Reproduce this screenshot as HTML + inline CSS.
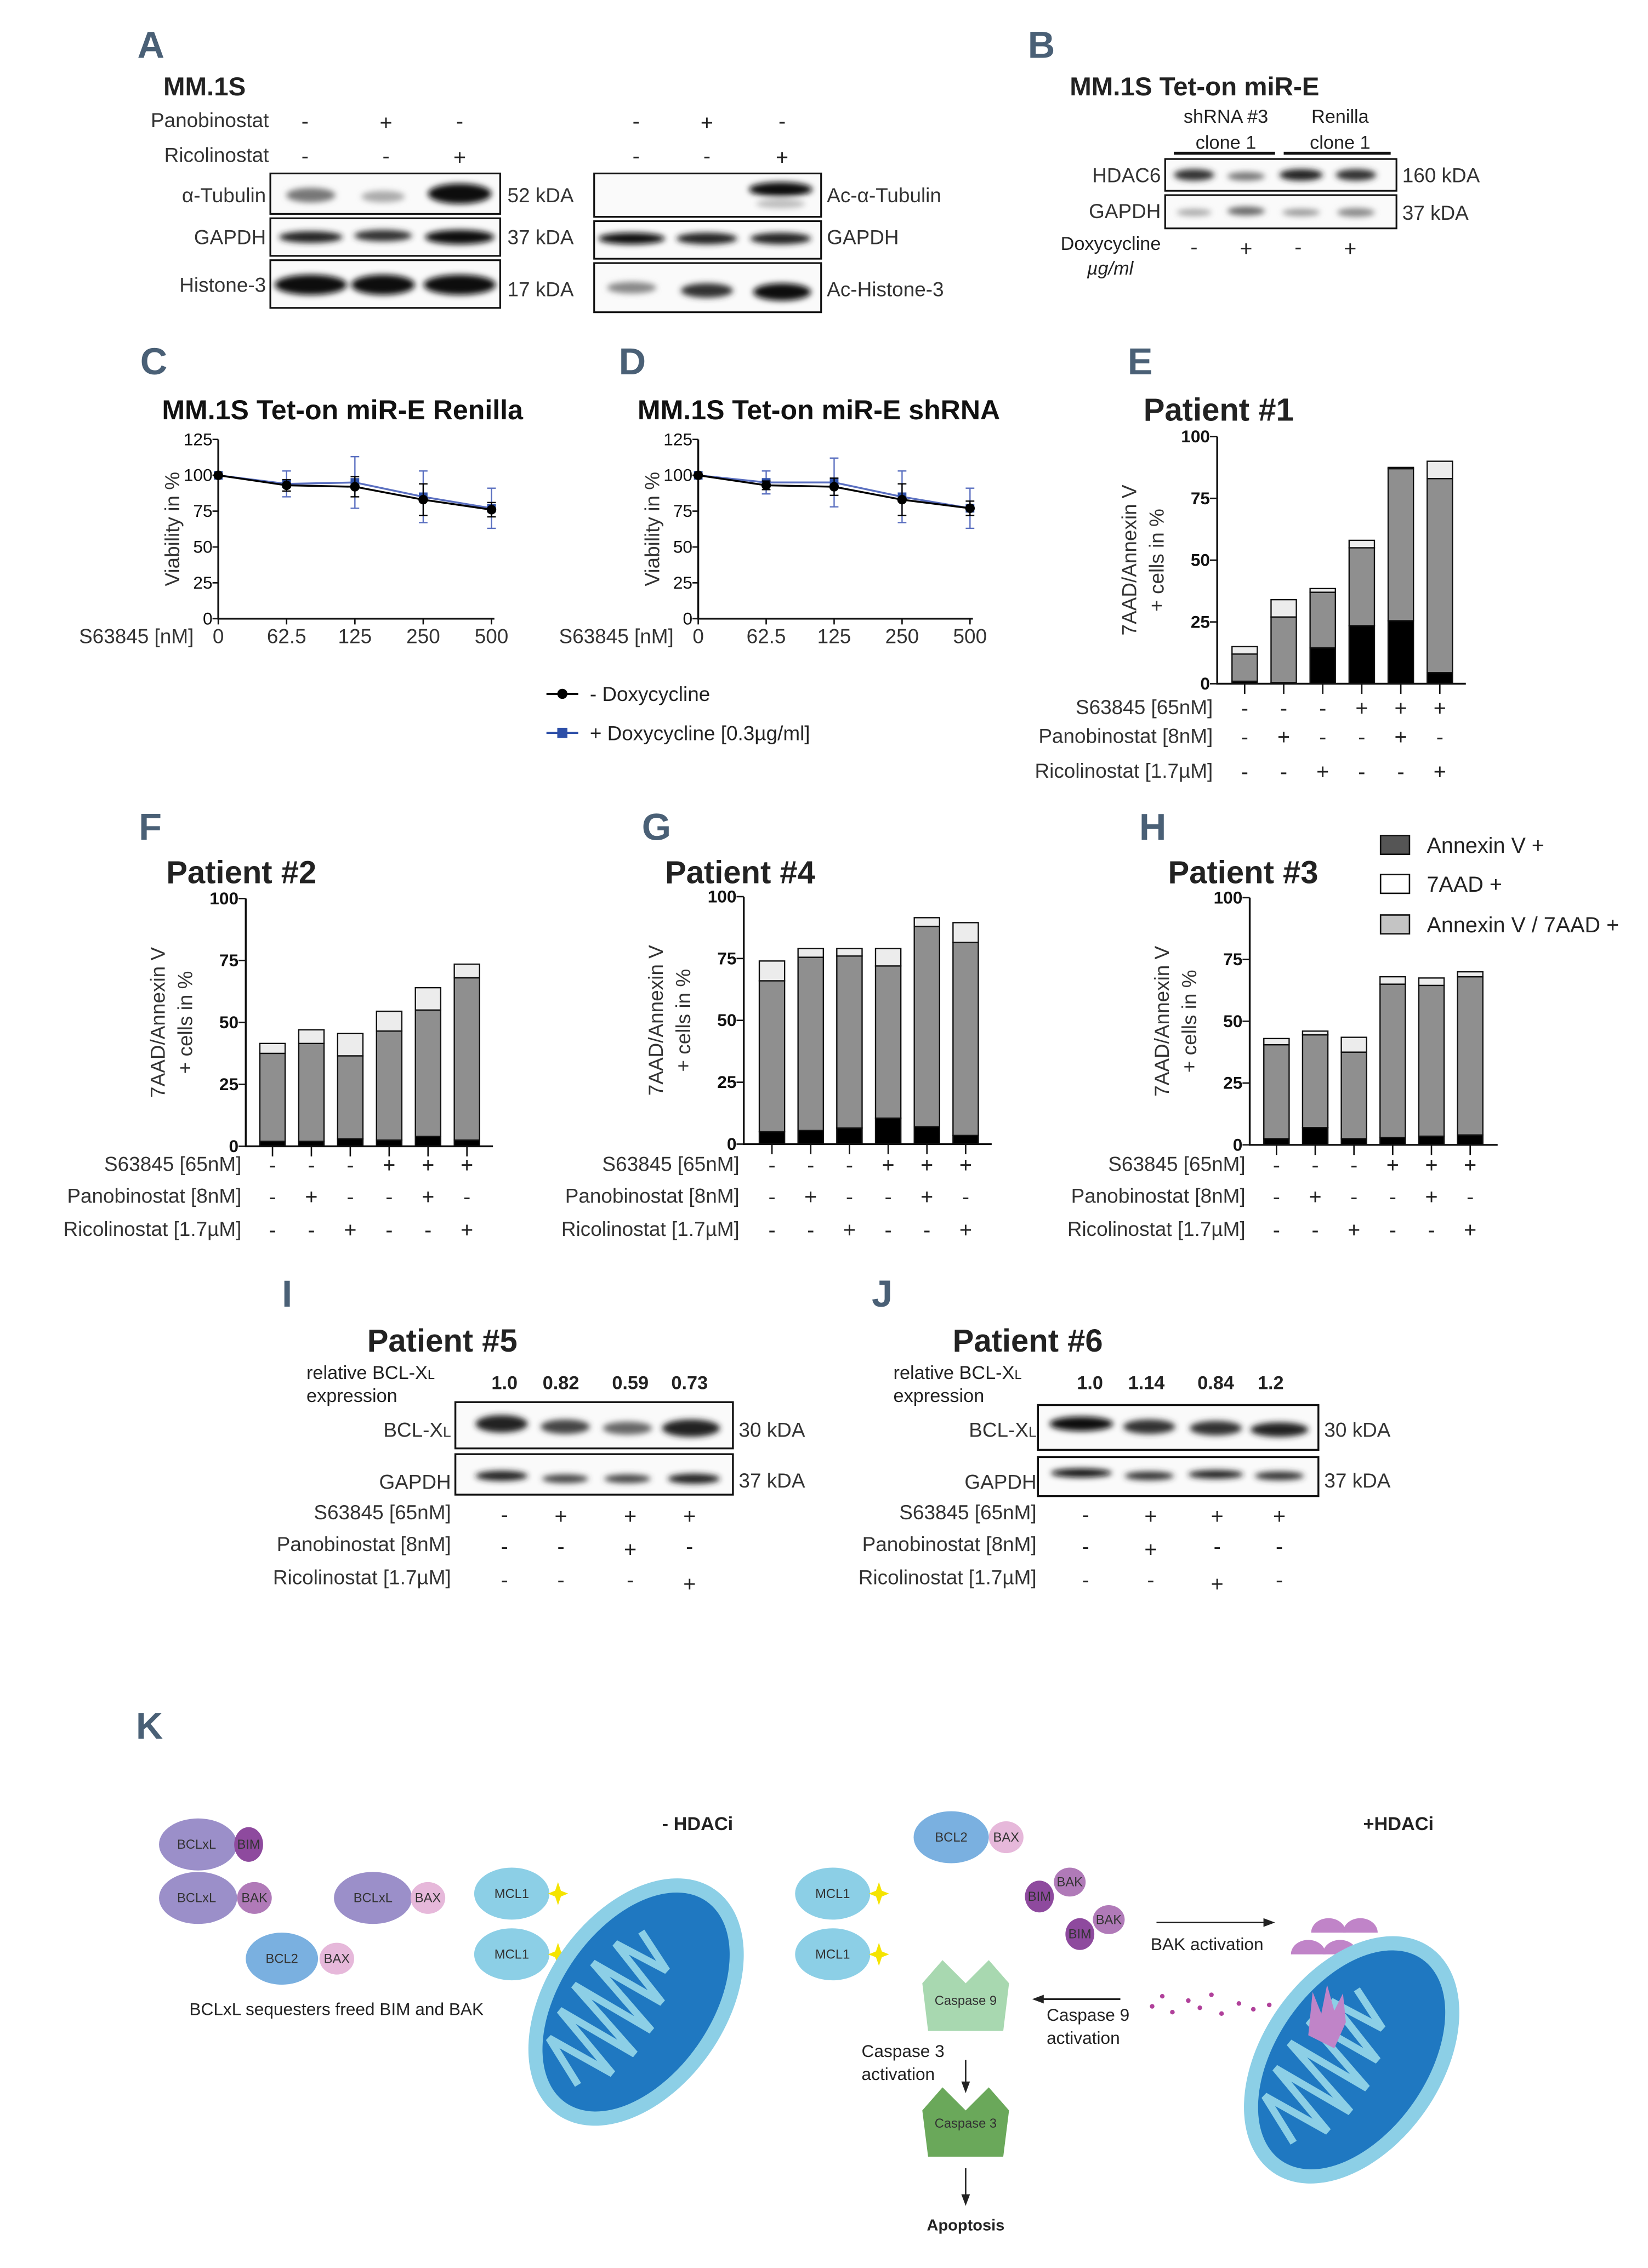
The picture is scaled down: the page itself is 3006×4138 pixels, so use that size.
<!DOCTYPE html>
<html><head><meta charset="utf-8">
<style>
html,body{margin:0;padding:0;background:#fff;}
svg{display:block;}
text{font-family:"Liberation Sans",sans-serif;fill:#222;}
.lt{font-family:"Liberation Sans Narrow","Liberation Sans",sans-serif;font-weight:bold;fill:#4a6076;font-size:26px;}
.ttl{font-weight:bold;font-size:19px;fill:#111;}
.lab{font-size:14px;fill:#333;}
.sg{font-size:15px;fill:#222;text-anchor:middle;}
.tk{font-size:12px;fill:#111;}
.tkb{font-size:12px;font-weight:bold;fill:#111;font-family:"Liberation Sans Narrow","Liberation Sans",sans-serif;}
.k{font-family:"Liberation Sans Narrow","Liberation Sans",sans-serif;font-size:9px;fill:#333;}
</style></head>
<body>
<svg id="fig" width="3006" height="4138" viewBox="0 0 1140 1569" preserveAspectRatio="none" xmlns="http://www.w3.org/2000/svg">
<defs>
<filter id="bl" x="-20%" y="-80%" width="140%" height="260%"><feGaussianBlur stdDeviation="2"/></filter>
</defs>

<!-- Panel A -->
<g>
<text class="lt" x="95" y="40">A</text>
<text x="113" y="66" style="font-weight:bold;font-size:18px">MM.1S</text>
<text class="lab" x="186" y="88" text-anchor="end">Panobinostat</text>
<text class="lab" x="186" y="112" text-anchor="end">Ricolinostat</text>
<g>
<text class="sg" x="211" y="89">-</text><text class="sg" x="267" y="90">+</text><text class="sg" x="318" y="89">-</text>
<text class="sg" x="211" y="113">-</text><text class="sg" x="267" y="113">-</text><text class="sg" x="318" y="114">+</text>
<text class="sg" x="440" y="89">-</text><text class="sg" x="489" y="90">+</text><text class="sg" x="541" y="89">-</text>
<text class="sg" x="440" y="113">-</text><text class="sg" x="489" y="113">-</text><text class="sg" x="541" y="114">+</text>
</g>
<g stroke="#111" stroke-width="1.2" fill="#fafafa">
<rect x="187" y="120" width="159" height="28"/><rect x="187" y="151" width="159" height="26"/><rect x="187" y="180" width="159" height="33"/>
</g>
<g stroke="#111" stroke-width="1.2" fill="#fafafa">
<rect x="411" y="120" width="157" height="30"/><rect x="411" y="153" width="157" height="26"/><rect x="411" y="182" width="157" height="34"/>
</g>
<g filter="url(#bl)">
<ellipse cx="215" cy="135" rx="17" ry="5" fill="#777"/><ellipse cx="265" cy="136" rx="15" ry="4" fill="#aaa"/><ellipse cx="318" cy="134" rx="22" ry="7" fill="#111"/>
<ellipse cx="215" cy="164" rx="22" ry="4" fill="#222"/><ellipse cx="265" cy="163" rx="20" ry="4" fill="#333"/><ellipse cx="318" cy="164" rx="24" ry="5" fill="#111"/>
<ellipse cx="215" cy="197" rx="25" ry="7" fill="#111"/><ellipse cx="265" cy="197" rx="22" ry="7" fill="#111"/><ellipse cx="318" cy="197" rx="25" ry="7" fill="#111"/>
<ellipse cx="540" cy="131" rx="22" ry="5" fill="#111"/><ellipse cx="540" cy="141" rx="17" ry="3" fill="#bbb"/>
<ellipse cx="437" cy="165" rx="23" ry="4" fill="#111"/><ellipse cx="489" cy="165" rx="21" ry="4" fill="#222"/><ellipse cx="540" cy="165" rx="21" ry="4" fill="#222"/>
<ellipse cx="437" cy="199" rx="17" ry="4" fill="#888"/><ellipse cx="489" cy="201" rx="18" ry="5" fill="#333"/><ellipse cx="541" cy="202" rx="20" ry="6" fill="#111"/>
</g>
<text class="lab" x="184" y="140" text-anchor="end">α-Tubulin</text>
<text class="lab" x="184" y="169" text-anchor="end">GAPDH</text>
<text class="lab" x="184" y="202" text-anchor="end">Histone-3</text>
<text class="lab" x="351" y="140">52 kDA</text><text class="lab" x="351" y="169">37 kDA</text><text class="lab" x="351" y="205">17 kDA</text>
<text class="lab" x="572" y="140">Ac-α-Tubulin</text><text class="lab" x="572" y="169">GAPDH</text><text class="lab" x="572" y="205">Ac-Histone-3</text>
</g>

<!-- Panel B -->
<g>
<text class="lt" x="711" y="40">B</text>
<text x="740" y="66" style="font-weight:bold;font-size:18px">MM.1S Tet-on miR-E</text>
<text x="848" y="85" text-anchor="middle" style="font-size:13px">shRNA #3</text>
<text x="848" y="103" text-anchor="middle" style="font-size:13px">clone 1</text>
<text x="927" y="85" text-anchor="middle" style="font-size:13px">Renilla</text>
<text x="927" y="103" text-anchor="middle" style="font-size:13px">clone 1</text>
<line x1="812" y1="106" x2="882" y2="106" stroke="#111" stroke-width="2"/>
<line x1="888" y1="106" x2="962" y2="106" stroke="#111" stroke-width="2"/>
<rect x="806" y="110" width="160" height="22" fill="#fafafa" stroke="#111" stroke-width="1.2"/>
<rect x="806" y="135" width="160" height="23" fill="#fafafa" stroke="#111" stroke-width="1.2"/>
<g filter="url(#bl)">
<ellipse cx="826" cy="121" rx="14" ry="4" fill="#333"/><ellipse cx="862" cy="122" rx="13" ry="3" fill="#777"/><ellipse cx="900" cy="121" rx="15" ry="4" fill="#222"/><ellipse cx="938" cy="121" rx="14" ry="4" fill="#333"/>
<ellipse cx="826" cy="147" rx="12" ry="2.5" fill="#aaa"/><ellipse cx="862" cy="146" rx="13" ry="3" fill="#666"/><ellipse cx="900" cy="147" rx="13" ry="2.5" fill="#999"/><ellipse cx="938" cy="147" rx="13" ry="3" fill="#888"/>
</g>
<text class="lab" x="803" y="126" text-anchor="end">HDAC6</text><text class="lab" x="803" y="151" text-anchor="end">GAPDH</text>
<text class="lab" x="970" y="126">160 kDA</text><text class="lab" x="970" y="152">37 kDA</text>
<text x="803" y="173" text-anchor="end" style="font-size:13px">Doxycycline</text>
<text x="784" y="190" text-anchor="end" style="font-size:13px;font-style:italic">µg/ml</text>
<text class="sg" x="826" y="176">-</text><text class="sg" x="862" y="177">+</text><text class="sg" x="898" y="176">-</text><text class="sg" x="934" y="177">+</text>
</g>

<!-- Panel C, D -->
<text class="lt" x="97" y="259">C</text>
<text class="ttl" x="112" y="290">MM.1S Tet-on miR-E Renilla</text>
<text class="lt" x="428" y="259">D</text>
<text class="ttl" x="441" y="290">MM.1S Tet-on miR-E shRNA</text>
<g id="chartC"></g>
<g id="chartD"></g>
<g>
<line x1="378" y1="480" x2="400" y2="480" stroke="#000" stroke-width="1.5"/><circle cx="389" cy="480" r="3.5" fill="#000"/>
<text x="408" y="485" style="font-size:14px">- Doxycycline</text>
<line x1="378" y1="507" x2="400" y2="507" stroke="#2d4fa8" stroke-width="1.5"/><rect x="385.5" y="503.5" width="7" height="7" fill="#2d4fa8"/>
<text x="408" y="512" style="font-size:14px">+ Doxycycline [0.3µg/ml]</text>
</g>

<!-- Panel E -->
<text class="lt" x="780" y="259">E</text>
<text x="791" y="291" style="font-weight:bold;font-size:22px">Patient #1</text>
<g id="chartE"></g>

<!-- F G H -->
<text class="lt" x="96" y="581">F</text>
<text x="115" y="611" style="font-weight:bold;font-size:22px">Patient #2</text>
<text class="lt" x="444" y="581">G</text>
<text x="460" y="611" style="font-weight:bold;font-size:22px">Patient #4</text>
<text class="lt" x="788" y="581">H</text>
<text x="808" y="611" style="font-weight:bold;font-size:22px">Patient #3</text>
<g id="chartF"></g>
<g id="chartG"></g>
<g id="chartH"></g>
<g>
<rect x="955" y="578" width="20" height="13" fill="#555" stroke="#111"/><text x="987" y="590" style="font-size:15px">Annexin V +</text>
<rect x="955" y="605" width="20" height="13" fill="#fff" stroke="#111"/><text x="987" y="617" style="font-size:15px">7AAD +</text>
<rect x="955" y="633" width="20" height="13" fill="#c4c4c4" stroke="#111"/><text x="987" y="645" style="font-size:15px">Annexin V / 7AAD +</text>
</g>

<!-- Panel I -->
<g>
<text class="lt" x="195" y="904">I</text>
<text x="254" y="935" style="font-weight:bold;font-size:22px">Patient #5</text>
<text x="212" y="954" style="font-size:13px">relative BCL-X<tspan style="font-size:9px">L</tspan></text>
<text x="212" y="970" style="font-size:13px">expression</text>
<g style="font-weight:bold;font-size:13px" text-anchor="middle"><text x="349" y="961">1.0</text><text x="388" y="961">0.82</text><text x="436" y="961">0.59</text><text x="477" y="961">0.73</text></g>
<rect x="315" y="970" width="192" height="32" fill="#fafafa" stroke="#111" stroke-width="1.3"/>
<rect x="315" y="1006" width="192" height="28" fill="#fafafa" stroke="#111" stroke-width="1.3"/>
<g filter="url(#bl)">
<ellipse cx="347" cy="985" rx="18" ry="6" fill="#222"/><ellipse cx="391" cy="987" rx="17" ry="5" fill="#444"/><ellipse cx="434" cy="988" rx="17" ry="4.5" fill="#666"/><ellipse cx="478" cy="988" rx="20" ry="6" fill="#222"/>
<ellipse cx="347" cy="1021" rx="18" ry="3.5" fill="#222"/><ellipse cx="391" cy="1023" rx="16" ry="3" fill="#444"/><ellipse cx="434" cy="1023" rx="16" ry="3" fill="#444"/><ellipse cx="480" cy="1023" rx="18" ry="3.5" fill="#222"/>
</g>
<text class="lab" x="312" y="994" text-anchor="end">BCL-X<tspan style="font-size:10px">L</tspan></text>
<text class="lab" x="312" y="1030" text-anchor="end">GAPDH</text>
<text class="lab" x="511" y="994">30 kDA</text><text class="lab" x="511" y="1029">37 kDA</text>
<text class="lab" x="312" y="1051" text-anchor="end">S63845 [65nM]</text>
<text class="lab" x="312" y="1073" text-anchor="end">Panobinostat [8nM]</text>
<text class="lab" x="312" y="1096" text-anchor="end">Ricolinostat [1.7µM]</text>
<text class="sg" x="349" y="1053">-</text><text class="sg" x="388" y="1054">+</text><text class="sg" x="436" y="1054">+</text><text class="sg" x="477" y="1054">+</text>
<text class="sg" x="349" y="1075">-</text><text class="sg" x="388" y="1075">-</text><text class="sg" x="436" y="1077">+</text><text class="sg" x="477" y="1075">-</text>
<text class="sg" x="349" y="1098">-</text><text class="sg" x="388" y="1098">-</text><text class="sg" x="436" y="1098">-</text><text class="sg" x="477" y="1101">+</text>
</g>

<!-- Panel J -->
<g>
<text class="lt" x="603" y="904">J</text>
<text x="659" y="935" style="font-weight:bold;font-size:22px">Patient #6</text>
<text x="618" y="954" style="font-size:13px">relative BCL-X<tspan style="font-size:9px">L</tspan></text>
<text x="618" y="970" style="font-size:13px">expression</text>
<g style="font-weight:bold;font-size:13px" text-anchor="middle"><text x="754" y="961">1.0</text><text x="793" y="961">1.14</text><text x="841" y="961">0.84</text><text x="879" y="961">1.2</text></g>
<rect x="718" y="972" width="194" height="31" fill="#fafafa" stroke="#111" stroke-width="1.3"/>
<rect x="718" y="1008" width="194" height="27" fill="#fafafa" stroke="#111" stroke-width="1.3"/>
<g filter="url(#bl)">
<ellipse cx="748" cy="985" rx="22" ry="5" fill="#111"/><ellipse cx="795" cy="987" rx="18" ry="5" fill="#333"/><ellipse cx="841" cy="988" rx="18" ry="5" fill="#333"/><ellipse cx="885" cy="989" rx="20" ry="5" fill="#222"/>
<ellipse cx="748" cy="1019" rx="21" ry="3" fill="#111"/><ellipse cx="795" cy="1021" rx="17" ry="3" fill="#333"/><ellipse cx="841" cy="1020" rx="19" ry="3" fill="#222"/><ellipse cx="885" cy="1021" rx="17" ry="3" fill="#333"/>
</g>
<text class="lab" x="717" y="994" text-anchor="end">BCL-X<tspan style="font-size:10px">L</tspan></text>
<text class="lab" x="717" y="1030" text-anchor="end">GAPDH</text>
<text class="lab" x="916" y="994">30 kDA</text><text class="lab" x="916" y="1029">37 kDA</text>
<text class="lab" x="717" y="1051" text-anchor="end">S63845 [65nM]</text>
<text class="lab" x="717" y="1073" text-anchor="end">Panobinostat [8nM]</text>
<text class="lab" x="717" y="1096" text-anchor="end">Ricolinostat [1.7µM]</text>
<text class="sg" x="751" y="1053">-</text><text class="sg" x="796" y="1054">+</text><text class="sg" x="842" y="1054">+</text><text class="sg" x="885" y="1054">+</text>
<text class="sg" x="751" y="1075">-</text><text class="sg" x="796" y="1077">+</text><text class="sg" x="842" y="1075">-</text><text class="sg" x="885" y="1075">-</text>
<text class="sg" x="751" y="1098">-</text><text class="sg" x="796" y="1098">-</text><text class="sg" x="842" y="1101">+</text><text class="sg" x="885" y="1098">-</text>
</g>

<!-- Panel K -->
<g>
<text class="lt" x="94" y="1203">K</text>
<text x="458" y="1266" style="font-weight:bold;font-size:13px">- HDACi</text>
<text x="943" y="1266" style="font-weight:bold;font-size:13px">+HDACi</text>
<!-- left complexes -->
<ellipse cx="137" cy="1276" rx="27" ry="18" fill="#9b8fc9"/><ellipse cx="172" cy="1276" rx="10" ry="12" fill="#8e4a9e"/>
<text class="k" x="136" y="1279" text-anchor="middle">BCLxL</text><text class="k" x="172" y="1279" text-anchor="middle">BIM</text>
<ellipse cx="137" cy="1313" rx="27" ry="18" fill="#9b8fc9"/><ellipse cx="176" cy="1313" rx="12" ry="11" fill="#b07ab8"/>
<text class="k" x="136" y="1316" text-anchor="middle">BCLxL</text><text class="k" x="176" y="1316" text-anchor="middle">BAK</text>
<ellipse cx="258" cy="1313" rx="27" ry="18" fill="#9b8fc9"/><ellipse cx="296" cy="1313" rx="12" ry="11" fill="#e6b8da"/>
<text class="k" x="258" y="1316" text-anchor="middle">BCLxL</text><text class="k" x="296" y="1316" text-anchor="middle">BAX</text>
<ellipse cx="195" cy="1355" rx="25" ry="18" fill="#7ab0e0"/><ellipse cx="233" cy="1355" rx="12" ry="11" fill="#e6b8da"/>
<text class="k" x="195" y="1358" text-anchor="middle">BCL2</text><text class="k" x="233" y="1358" text-anchor="middle">BAX</text>
<ellipse cx="354" cy="1310" rx="26" ry="18" fill="#8ccfe6"/><text class="k" x="354" y="1313" text-anchor="middle">MCL1</text>
<polygon points="386,1302 388,1308 393,1310 388,1312 386,1318 384,1312 379,1310 384,1308" fill="#f5e400"/>
<ellipse cx="354" cy="1352" rx="26" ry="18" fill="#8ccfe6"/><text class="k" x="354" y="1355" text-anchor="middle">MCL1</text>
<polygon points="386,1344 388,1350 393,1352 388,1354 386,1360 384,1354 379,1352 384,1350" fill="#f5e400"/>
<text x="131" y="1394" style="font-size:12px">BCLxL sequesters freed BIM and BAK</text>
<!-- left mito -->
<g transform="rotate(-55 440 1385)">
<ellipse cx="440" cy="1385" rx="95" ry="62" fill="#8ccfe6"/>
<ellipse cx="440" cy="1385" rx="85" ry="52" fill="#1f78c1"/>
<path d="M370 1385 l15 -35 l5 50 l15 -55 l5 60 l15 -62 l5 62 l15 -60 l5 55 l15 -50 l5 40 l12 -30" stroke="#8ccfe6" stroke-width="5" fill="none"/>
</g>
<!-- right side -->
<ellipse cx="658" cy="1271" rx="26" ry="18" fill="#7ab0e0"/><ellipse cx="696" cy="1271" rx="12" ry="11" fill="#e6b8da"/>
<text class="k" x="658" y="1274" text-anchor="middle">BCL2</text><text class="k" x="696" y="1274" text-anchor="middle">BAX</text>
<ellipse cx="576" cy="1310" rx="26" ry="18" fill="#8ccfe6"/><text class="k" x="576" y="1313" text-anchor="middle">MCL1</text>
<polygon points="608,1302 610,1308 615,1310 610,1312 608,1318 606,1312 601,1310 606,1308" fill="#f5e400"/>
<ellipse cx="576" cy="1352" rx="26" ry="18" fill="#8ccfe6"/><text class="k" x="576" y="1355" text-anchor="middle">MCL1</text>
<polygon points="608,1344 610,1350 615,1352 610,1354 608,1360 606,1354 601,1352 606,1350" fill="#f5e400"/>
<ellipse cx="740" cy="1302" rx="11" ry="10" fill="#b07ab8"/><ellipse cx="719" cy="1312" rx="10" ry="11" fill="#8e4a9e"/>
<text class="k" x="740" y="1305" text-anchor="middle">BAK</text><text class="k" x="719" y="1315" text-anchor="middle">BIM</text>
<ellipse cx="767" cy="1328" rx="11" ry="10" fill="#b07ab8"/><ellipse cx="747" cy="1338" rx="10" ry="11" fill="#8e4a9e"/>
<text class="k" x="767" y="1331" text-anchor="middle">BAK</text><text class="k" x="747" y="1341" text-anchor="middle">BIM</text>
<line x1="800" y1="1330" x2="876" y2="1330" stroke="#222" stroke-width="1"/><polygon points="882,1330 874,1327 874,1333" fill="#222"/>
<text x="796" y="1349" style="font-size:12px">BAK activation</text>
<g fill="#c084c8">
<path d="M907 1337 a12 10 0 0 1 24 0 z"/><path d="M929 1337 a12 10 0 0 1 24 0 z"/>
<path d="M893 1352 a12 10 0 0 1 24 0 z"/><path d="M915 1352 a12 10 0 0 1 24 0 z"/>
<path d="M920 1364 a12 10 0 0 1 24 0 z"/><path d="M942 1364 a12 10 0 0 1 24 0 z"/>
</g>
<line x1="932" y1="1366" x2="932" y2="1388" stroke="#222"/><polygon points="932,1394 929,1386 935,1386" fill="#222"/>
<polygon points="638,1372 652,1356 668,1372 684,1356 698,1372 694,1405 642,1405" fill="#a8d8b0"/>
<text class="k" x="668" y="1387" text-anchor="middle">Caspase 9</text>
<line x1="775" y1="1383" x2="720" y2="1383" stroke="#222" stroke-width="1.2"/><polygon points="714,1383 722,1380 722,1386" fill="#222"/>
<text x="724" y="1398" style="font-size:12px">Caspase 9</text><text x="724" y="1414" style="font-size:12px">activation</text>
<text x="596" y="1423" style="font-size:12px">Caspase 3</text><text x="596" y="1439" style="font-size:12px">activation</text>
<line x1="668" y1="1425" x2="668" y2="1442" stroke="#222"/><polygon points="668,1448 665,1440 671,1440" fill="#222"/>
<polygon points="638,1460 652,1444 668,1460 684,1444 698,1460 694,1492 642,1492" fill="#6aa85a"/>
<text class="k" x="668" y="1472" text-anchor="middle">Caspase 3</text>
<line x1="668" y1="1500" x2="668" y2="1520" stroke="#222"/><polygon points="668,1526 665,1518 671,1518" fill="#222"/>
<text x="668" y="1543" text-anchor="middle" style="font-weight:bold;font-size:11px">Apoptosis</text>
<g fill="#b0409a">
<circle cx="797" cy="1388" r="1.6"/><circle cx="804" cy="1381" r="1.6"/><circle cx="811" cy="1392" r="1.6"/><circle cx="822" cy="1384" r="1.6"/><circle cx="830" cy="1389" r="1.6"/><circle cx="838" cy="1380" r="1.6"/><circle cx="845" cy="1393" r="1.6"/><circle cx="857" cy="1386" r="1.6"/><circle cx="867" cy="1390" r="1.6"/><circle cx="878" cy="1387" r="1.6"/><circle cx="892" cy="1394" r="1.6"/>
</g>
<g transform="rotate(-55 935 1425)">
<ellipse cx="935" cy="1425" rx="95" ry="62" fill="#8ccfe6"/>
<ellipse cx="935" cy="1425" rx="85" ry="52" fill="#1f78c1"/>
<path d="M865 1425 l15 -35 l5 50 l15 -55 l5 60 l15 -62 l5 62 l15 -60 l5 55 l15 -50 l5 40 l12 -30" stroke="#8ccfe6" stroke-width="5" fill="none"/>
</g>
<path d="M905 1408 l3 -30 l6 15 l4 -20 l5 18 l6 -12 l2 20 l-8 18 z" fill="#c084c8"/>
</g>
</svg>

<script>
var NS='http://www.w3.org/2000/svg';
// ---- line chart data ----
var concLabels=['0','62.5','125','250','500'];
var yTicksLine=[0,25,50,75,100,125];
var renMinus=[100,93,92,83,76];
var renMinusErr=[0,4,7,11,5];
var renPlus=[100,94,95,85,77];
var renPlusErr=[0,9,18,18,14];
var shMinus=[100,93,92,83,77];
var shMinusErr=[0,3,6,11,5];
var shPlus=[100,95,95,85,77];
var shPlusErr=[0,8,17,18,14];
// ---- bar chart data ----
var treatS=['-','-','-','+','+','+'];
var treatP=['-','+','-','-','+','-'];
var treatR=['-','-','+','-','-','+'];
var yTicksBar=[0,25,50,75,100];
var eAnnexin=[1,0.5,14.5,23.5,25.5,4.5];
var eDouble=[11,26.5,22.5,31.5,61.5,78.5];
var e7aad=[3,7,1.5,3,0.5,7];
var fAnnexin=[2,2,3,2.5,4,2.5];
var fDouble=[35.5,39.5,33.5,44,51,65.5];
var f7aad=[4,5.5,9,8,9,5.5];
var gAnnexin=[5,5.5,6.5,10.5,7,3.5];
var gDouble=[61,70,69.5,61.5,81,78];
var g7aad=[8,3.5,3,7,3.5,8];
var hAnnexin=[2.5,7,2.5,3,3.5,4];
var hDouble=[38,37.5,35,62,61,64];
var h7aad=[2.5,1.5,6,3,3,2];

function el(tag,attrs,parent){var e=document.createElementNS(NS,tag);for(var k in attrs)e.setAttribute(k,attrs[k]);parent.appendChild(e);return e;}
function txt(s,attrs,parent){var t=el('text',attrs,parent);t.textContent=s;return t;}

function lineChart(g,cfg,minus,minusErr,plus,plusErr){
  var x=function(i){return cfg.x0+i*(cfg.x1-cfg.x0)/(concLabels.length-1);};
  var y=function(v){return cfg.y0-v/125*(cfg.y0-cfg.y125);};
  var ax=el('path',{d:'M'+cfg.x0+' '+y(125)+' V'+cfg.y0+' H'+(cfg.x1+2),stroke:'#111','stroke-width':1.3,fill:'none'},g);
  
  
  yTicksLine.forEach(function(v){
    el('line',{x1:cfg.x0-4,x2:cfg.x0,y1:y(v),y2:y(v),stroke:'#111'},g);
    var t=txt(String(v),{x:cfg.x0-4,y:y(v)+4,'text-anchor':'end','class':'tk'},g);
    
    
  });
  concLabels.forEach(function(l,i){
    el('line',{x1:x(i),x2:x(i),y1:cfg.y0,y2:cfg.y0+4,stroke:'#111'},g);
    var t=txt(l,{x:x(i),y:cfg.y0+17,'text-anchor':'middle','class':'lab'},g);
    
    
  });
  var xt=txt('S63845 [nM]',{x:cfg.x0-17,y:cfg.y0+17,'text-anchor':'end','class':'lab'},g);
  
  
  var yt=txt('Viability in %',{x:0,y:0,transform:'translate('+(cfg.x0-27)+' '+(cfg.y0-62)+') rotate(-90)','text-anchor':'middle','class':'lab'},g);
  
  
  [[plus,plusErr,'#5a6fc0','sq'],[minus,minusErr,'#000','c']].forEach(function(s){
    var d=s[0].map(function(v,i){return (i?'L':'M')+x(i)+' '+y(v);}).join(' ');
    var p=el('path',{d:d,stroke:s[2],'stroke-width':1.3,fill:'none'},g);
    
    
    s[0].forEach(function(v,i){
      var e=s[1][i];
      if(e>0){
        el('line',{x1:x(i),x2:x(i),y1:y(v+e),y2:y(v-e),stroke:s[2],'stroke-width':0.9},g);
        el('line',{x1:x(i)-3,x2:x(i)+3,y1:y(v+e),y2:y(v+e),stroke:s[2],'stroke-width':0.9},g);
        el('line',{x1:x(i)-3,x2:x(i)+3,y1:y(v-e),y2:y(v-e),stroke:s[2],'stroke-width':0.9},g);
      }
      var m;
      if(s[3]=='c'){m=el('circle',{cx:x(i),cy:y(v),r:3.3,fill:'#000'},g);}
      else{m=el('rect',{x:x(i)-3,y:y(v)-3,width:6,height:6,fill:'#2d4fa8'},g);}
      
      
    });
  });
}
lineChart(document.getElementById('chartC'),{x0:151,x1:340,y0:428,y125:304},renMinus,renMinusErr,renPlus,renPlusErr);
lineChart(document.getElementById('chartD'),{x0:483,x1:671,y0:428,y125:304},shMinus,shMinusErr,shPlus,shPlusErr);

function barChart(g,cfg,ann,dbl,aad){
  var y=function(v){return cfg.y0-v/100*(cfg.y0-cfg.y100);};
  var x=function(i){return cfg.xf+i*cfg.step;};
  var w=17.5;
  ann.forEach(function(a,i){
    var segs=[[0,a,'#000'],[a,a+dbl[i],'#8f8f8f'],[a+dbl[i],a+dbl[i]+aad[i],'#ececec']];
    segs.forEach(function(s,j){
      var r=el('rect',{x:x(i)-w/2,y:y(s[1]),width:w,height:Math.max(0,y(s[0])-y(s[1])),fill:s[2],stroke:'#111','stroke-width':0.9},g);
      
      
    });
    el('line',{x1:x(i),x2:x(i),y1:cfg.y0,y2:cfg.y0+7,stroke:'#111'},g);
  });
  var ax=el('path',{d:'M'+cfg.ax+' '+y(100)+' V'+cfg.y0+' H'+cfg.end,stroke:'#111','stroke-width':1.3,fill:'none'},g);
  
  
  yTicksBar.forEach(function(v){
    el('line',{x1:cfg.ax-5,x2:cfg.ax,y1:y(v),y2:y(v),stroke:'#111'},g);
    var t=txt(String(v),{x:cfg.ax-5,y:y(v)+4,'text-anchor':'end','class':'tkb'},g);
    
    
  });
  var cy=(cfg.y0+cfg.y100)/2;
  var t1=txt('7AAD/Annexin V',{transform:'translate('+(cfg.ax-56)+' '+cy+') rotate(-90)','text-anchor':'middle','class':'lab'},g);
  
  
  var t2=txt('+ cells in %',{transform:'translate('+(cfg.ax-37)+' '+cy+') rotate(-90)','text-anchor':'middle','class':'lab'},g);
  
  
  var names=['S63845 [65nM]','Panobinostat [8nM]','Ricolinostat [1.7µM]'];
  [treatS,treatP,treatR].forEach(function(row,r){
    var ry=cfg.rows[r];
    var l=txt(names[r],{x:cfg.ax-3,y:ry+5,'text-anchor':'end','class':'lab'},g);
    
    
    row.forEach(function(s,i){
      var st=txt(s,{x:x(i),y:ry+6,'class':'sg'},g);
      
      
    });
  });
}
barChart(document.getElementById('chartE'),{xf:861,step:27,y0:473,y100:302,ax:842,end:1014,rows:[489,509,533]},eAnnexin,eDouble,e7aad);
barChart(document.getElementById('chartF'),{xf:188.5,step:26.9,y0:793,y100:621.6,ax:170,end:341,rows:[805,827,850]},fAnnexin,fDouble,f7aad);
barChart(document.getElementById('chartG'),{xf:534,step:26.8,y0:791.5,y100:620.3,ax:514.5,end:686,rows:[805,827,850]},gAnnexin,gDouble,g7aad);
barChart(document.getElementById('chartH'),{xf:883,step:26.8,y0:792,y100:621,ax:864.5,end:1036,rows:[805,827,850]},hAnnexin,hDouble,h7aad);
</script>
</body></html>
